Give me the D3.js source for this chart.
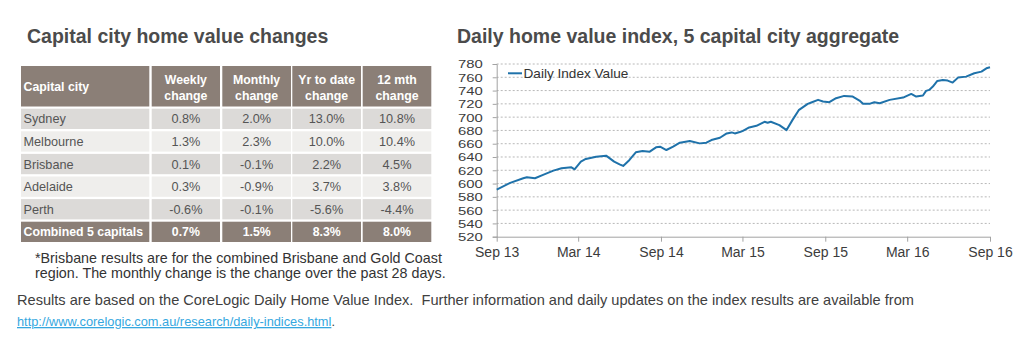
<!DOCTYPE html>
<html>
<head>
<meta charset="utf-8">
<script src="https://cdn.jsdelivr.net/npm/d3@7/dist/d3.min.js"></script>
<style>
  html, body { margin: 0; padding: 0; background: #fff; }
  svg { display: block; font-family: "Liberation Sans", Arial, Helvetica, sans-serif; }
</style>
</head>
<body>
<svg id="chart" width="1026" height="360"></svg>
<script>
// ---------- DATA ----------
const tableColumns = ["Capital city", "Weekly\nchange", "Monthly\nchange", "Yr to date\nchange", "12 mth\nchange"];
const cities = ["Sydney", "Melbourne", "Brisbane", "Adelaide", "Perth", "Combined 5 capitals"];
const weeklyChange  = [0.8, 1.3, 0.1, 0.3, -0.6, 0.7];
const monthlyChange = [2.0, 2.3, -0.1, -0.9, -0.1, 1.5];
const ytdChange     = [13.0, 10.0, 2.2, 3.7, -5.6, 8.3];
const annualChange  = [10.8, 10.4, 4.5, 3.8, -4.4, 8.0];

const indexDates = ["2013-09-01","2013-10-01","2013-10-30","2013-11-07","2013-11-25","2013-12-13","2014-01-05","2014-01-23","2014-02-14","2014-02-21","2014-03-07","2014-03-18","2014-04-10","2014-05-02","2014-05-20","2014-06-01","2014-06-09","2014-06-23","2014-07-07","2014-07-22","2014-08-07","2014-08-21","2014-08-30","2014-09-13","2014-09-28","2014-10-13","2014-11-04","2014-11-26","2014-12-11","2014-12-22","2015-01-10","2015-01-25","2015-02-05","2015-02-12","2015-02-23","2015-03-01","2015-03-16","2015-04-01","2015-04-19","2015-04-26","2015-05-03","2015-05-22","2015-06-07","2015-06-20","2015-07-04","2015-07-24","2015-08-01","2015-08-16","2015-08-27","2015-09-10","2015-09-25","2015-10-13","2015-11-01","2015-11-16","2015-11-24","2015-12-08","2015-12-19","2015-12-31","2016-01-22","2016-02-21","2016-03-10","2016-03-21","2016-04-05","2016-04-12","2016-04-19","2016-04-27","2016-05-07","2016-05-19","2016-05-30","2016-06-10","2016-06-22","2016-07-10","2016-07-28","2016-08-13","2016-08-24","2016-09-01"];
const indexValues = [591,601,608,609.5,608,613,619.5,623,624.5,621.5,633,637,640.5,642,633,629,626.5,635.5,647,649,648,654.5,655.5,650.5,655.5,661.5,664,660.5,661.5,665.5,669,675.5,677,675.5,677.5,679,684.5,687,693,691.5,693,688,680.5,695.5,710.5,720,722,726,723.5,722.5,728.5,732,731,725,720,720,722.5,721,726,729.5,735,731,732.5,739.5,741,746,754.5,756,755,752,759.5,761,766,768.5,773.5,775];

const yTicks = [520,540,560,580,600,620,640,660,680,700,720,740,760,780];
const xTickDates = ["2013-09-01","2014-03-01","2014-09-01","2015-03-01","2015-09-01","2016-03-01","2016-09-01"];
const xTickLabels = ["Sep 13","Mar 14","Sep 14","Mar 15","Sep 15","Mar 16","Sep 16"];

const leftTitle = "Capital city home value changes";
const rightTitle = "Daily home value index, 5 capital city aggregate";
const seriesName = "Daily Index Value";
const footnote = ["*Brisbane results are for the combined Brisbane and Gold Coast",
                  "region. The monthly change is the change over the past 28 days."];
const sourceText = "Results are based on the CoreLogic Daily Home Value Index.  Further information and daily updates on the index results are available from";
const sourceLink = "http://www.corelogic.com.au/research/daily-indices.html";

// ---------- SETUP ----------
const svg = d3.select("#chart");
const parse = d3.timeParse("%Y-%m-%d");
const titleColor = "#4b4b4b";

// ---------- LEFT: TABLE ----------
svg.append("text").attr("x", 27).attr("y", 43)
  .attr("font-size", 19.5).attr("font-weight", "bold").attr("fill", titleColor)
  .text(leftTitle);

const colEdges = [[21, 149.3], [151.7, 220], [222.3, 291], [292.3, 361], [362.7, 431.3]];
const headerTop = 66, headerH = 40.5;
const rowY = d3.scalePoint().domain(cities).range([108.7, 221.7]);
const rowH = 20.3;
const headBg = "#8b7f77";
const fmt = v => v.toFixed(1) + "%";
const valueCols = [weeklyChange, monthlyChange, ytdChange, annualChange];

const tbl = svg.append("g");
// header
colEdges.forEach((c, i) => {
  tbl.append("rect").attr("x", c[0]).attr("y", headerTop).attr("width", c[1] - c[0]).attr("height", headerH).attr("fill", headBg);
  const lines = tableColumns[i].split("\n");
  const t = tbl.append("text").attr("fill", "#fff").attr("font-size", 12.3).attr("font-weight", "bold")
    .attr("text-anchor", i === 0 ? "start" : "middle");
  if (lines.length === 1) {
    t.attr("x", c[0] + 2.5).attr("y", headerTop + headerH / 2 + 4.3).text(lines[0]);
  } else {
    lines.forEach((ln, k) => {
      t.append("tspan").attr("x", (c[0] + c[1]) / 2).attr("y", headerTop + 17.8 + k * 16).text(ln);
    });
  }
});
// body
cities.forEach((city, r) => {
  const y0 = rowY(city);
  const last = r === cities.length - 1;
  const bg = last ? headBg : (r % 2 === 0 ? "#dcdad8" : "#efeeec");
  colEdges.forEach((c, i) => {
    tbl.append("rect").attr("x", c[0]).attr("y", y0).attr("width", c[1] - c[0]).attr("height", rowH).attr("fill", bg);
    const txt = i === 0 ? city : fmt(valueCols[i - 1][r]);
    tbl.append("text")
      .attr("x", i === 0 ? c[0] + 2.5 : (c[0] + c[1]) / 2)
      .attr("y", y0 + rowH / 2 + 4.6)
      .attr("text-anchor", i === 0 ? "start" : "middle")
      .attr("font-size", last ? 12.3 : 12.7)
      .attr("font-weight", last ? "bold" : "normal")
      .attr("fill", last ? "#fff" : "#555")
      .text(txt);
  });
});

footnote.forEach((ln, k) => {
  svg.append("text").attr("x", 35).attr("y", 262.5 + k * 15)
    .attr("font-size", 14.3).attr("fill", "#333").text(ln);
});

// ---------- RIGHT: LINE CHART ----------
svg.append("text").attr("x", 457).attr("y", 43)
  .attr("font-size", 19.5).attr("font-weight", "bold").attr("fill", titleColor)
  .text(rightTitle);

const x = d3.scaleTime().domain([parse("2013-09-01"), parse("2016-09-01")]).range([496.7, 990]);
const y = d3.scaleLinear().domain([520, 780]).range([236.7, 64]);
const axisColor = "#a3a3a3";

// gridlines
svg.append("g").selectAll("line").data(yTicks.filter(v => v > 520)).join("line")
  .attr("x1", x.range()[0]).attr("x2", x.range()[1])
  .attr("y1", d => y(d)).attr("y2", d => y(d))
  .attr("stroke", "#b8b8b8").attr("stroke-width", 1).attr("stroke-dasharray", "2,2");

// y axis
const yAxis = svg.append("g").attr("transform", `translate(${x.range()[0]},0)`)
  .call(d3.axisLeft(y).tickValues(yTicks).tickSize(4).tickPadding(10).tickFormat(d3.format("d")));
yAxis.select(".domain").attr("stroke", axisColor);
yAxis.selectAll(".tick line").attr("stroke", axisColor);
yAxis.selectAll(".tick text")
  .attr("x", 0).attr("dy", null).attr("dominant-baseline", "central")
  .attr("transform", "translate(-14,0) scale(1.1,0.85)")
  .attr("font-size", 13.5).attr("fill", "#3c3c3c")
  .attr("font-family", "'Liberation Sans', Arial, sans-serif");

// x axis
const xAxis = svg.append("g").attr("transform", `translate(0,${y.range()[0]})`)
  .call(d3.axisBottom(x).tickValues(xTickDates.map(parse)).tickSize(5).tickPadding(5)
    .tickFormat((d, i) => xTickLabels[i]));
xAxis.select(".domain").attr("stroke", axisColor).attr("d", `M${x.range()[0]},0.5H${x.range()[1]}`);
xAxis.selectAll(".tick line").attr("stroke", axisColor);
xAxis.selectAll(".tick text").attr("font-size", 14).attr("fill", "#3c3c3c")
  .attr("font-family", "'Liberation Sans', Arial, sans-serif");

// line
const series = indexDates.map((d, i) => ({ date: parse(d), value: indexValues[i] }));
const lineColor = "#1f72aa";
svg.append("path").datum(series)
  .attr("fill", "none").attr("stroke", lineColor).attr("stroke-width", 2)
  .attr("stroke-linejoin", "round")
  .attr("d", d3.line().x(d => x(d.date)).y(d => y(d.value)));

// legend
svg.append("line").attr("x1", 508).attr("x2", 522).attr("y1", 73.3).attr("y2", 73.3)
  .attr("stroke", lineColor).attr("stroke-width", 2);
svg.append("text").attr("x", 523.5).attr("y", 78).attr("font-size", 13.6).attr("fill", "#333").text(seriesName);

// ---------- FOOTER ----------
svg.append("text").attr("x", 17).attr("y", 305).attr("font-size", 14.6).attr("fill", "#404040")
  .attr("xml:space", "preserve").style("white-space", "pre").text(sourceText);
const link = svg.append("text").attr("x", 17).attr("y", 326).attr("font-size", 12.8);
link.append("tspan").attr("fill", "#35a7e0").attr("text-decoration", "underline").text(sourceLink);
link.append("tspan").attr("fill", "#404040").text(".");
</script>
</body>
</html>
